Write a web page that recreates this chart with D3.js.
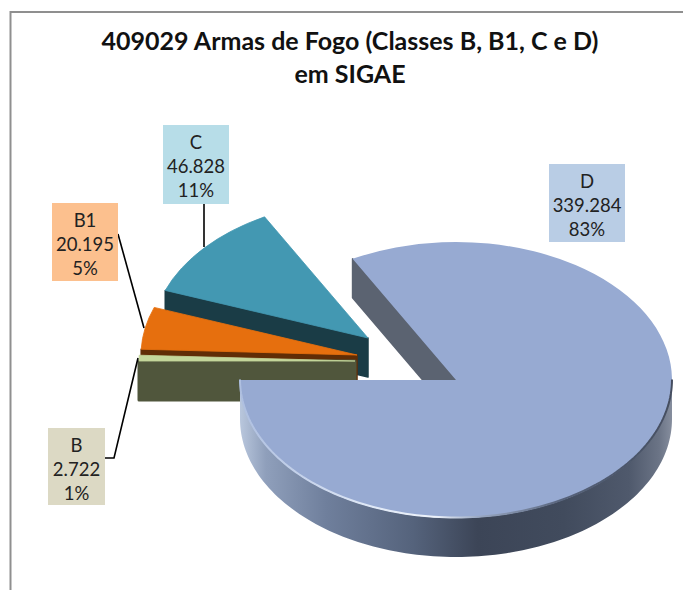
<!DOCTYPE html>
<html><head><meta charset="utf-8">
<script src="https://cdn.jsdelivr.net/npm/d3@7/dist/d3.min.js"></script>
<style>html,body{margin:0;padding:0;background:#fff}svg{display:block}</style>
</head><body>
<svg id="c" width="683" height="590"></svg>
<script>
const titleLines = ["409029 Armas de Fogo (Classes B, B1, C e D)", "em SIGAE"];
const categories = ["B", "B1", "C", "D"];
const values = [2722, 20195, 46828, 339284];

// Styling and layout, separate from the data
const topColors  = ["#c4d79b", "#e66f0e", "#4398b2", "#97aad2"];
const sideColors = ["#50563c", "#602d06", "#1a3c46", "#5b6371"];
const boxColors  = ["#dcd9c4", "#fcc08e", "#b7dde8", "#b9cde5"];
const wallStroke = [3, 1.5, 1.5, 1.5];
const R = 216, RY = 138, DEPTH = 39;
const centre = {x: 456, y: 380};
const apexes = [{x: 355, y: 361}, {x: 357, y: 355}, {x: 368, y: 338}, centre];
const boxes = [
  {x: 48, y: 428, w: 57, h: 77},
  {x: 52, y: 203, w: 66, h: 78},
  {x: 163, y: 125, w: 66, h: 79},
  {x: 549, y: 164, w: 76, h: 78}
];
const leaders = [
  [[105, 458], [114, 458], [138, 358]],
  [[118, 234], [144, 328]],
  [[204, 204], [204, 247]],
  []
];

const svg = d3.select("#c");
const defs = svg.append("defs");
const font = "Lato, 'Open Sans', sans-serif";

const fmtNum = d3.formatLocale({decimal: ",", thousands: ".", grouping: [3], currency: ["", ""]}).format(",d");
const fmtPct = d3.format(".0%");
const total = d3.sum(values);

const pie = d3.pie().sort(null).startAngle(-Math.PI / 2).endAngle(1.5 * Math.PI);
const arcs = pie(values);
const arc = d3.arc().innerRadius(0).outerRadius(R);

const px = (a, ang) => a.x + R * Math.sin(ang);
const py = (a, ang) => a.y - RY * Math.cos(ang);

// Frame
svg.append("path").attr("d", "M10.5,590V12H683")
  .attr("fill", "none").attr("stroke", "#8f8f8f").attr("stroke-width", 2);

// Title
svg.append("text").attr("text-anchor", "middle").attr("font-family", font)
  .attr("font-weight", 700).attr("font-size", 25).attr("fill", "#111")
  .selectAll("tspan").data(titleLines).join("tspan")
  .attr("x", 350).attr("y", (d, i) => 50 + i * 33).text(d => d);

// Gradients for the rim of the large slice
const rimGrad = defs.append("linearGradient").attr("id", "rim")
  .attr("gradientUnits", "userSpaceOnUse")
  .attr("x1", centre.x - R).attr("x2", centre.x + R).attr("y1", 0).attr("y2", 0);
[[0, "#b9c7dd"], [.06, "#8f9fbb"], [.2, "#6f7f9c"], [.4, "#55637c"], [.55, "#3c4557"],
 [.75, "#414b5d"], [.9, "#4f596c"], [.97, "#6b7486"], [1, "#868e9e"]]
  .forEach(([o, c]) => rimGrad.append("stop").attr("offset", o).attr("stop-color", c));

const bevelGrad = defs.append("linearGradient").attr("id", "bevel")
  .attr("gradientUnits", "userSpaceOnUse")
  .attr("x1", centre.x - R).attr("x2", centre.x + R).attr("y1", 0).attr("y2", 0);
[[0, "#aebfe0"], [.3, "#dfe8f6"], [.45, "#eef3fb"], [.55, "#9aa9c4"], [.75, "#56627a"], [1, "#454e60"]]
  .forEach(([o, c]) => bevelGrad.append("stop").attr("offset", o).attr("stop-color", c));
defs.append("filter").attr("id", "soft").append("feGaussianBlur").attr("stdDeviation", 0.6);

// Cut walls, rim and top face of each slice, back to front
const g = svg.append("g");
[2, 1, 0, 3].forEach(i => {
  const d = arcs[i], a = apexes[i], col = sideColors[i];
  // wall along the slice's start angle
  const s = d.startAngle;
  const wall = d3.line()([
    [a.x, a.y], [px(a, s), py(a, s)],
    [px(a, s), py(a, s) + DEPTH], [a.x, a.y + DEPTH]
  ]) + "Z";
  g.append("path").attr("d", wall).attr("fill", col).attr("stroke", col)
    .attr("stroke-width", wallStroke[i]).attr("stroke-linejoin", "round");

  if (i === 3) {
    // front rim of the large slice
    const angs = d3.range(Math.PI / 2, 1.5 * Math.PI + 1e-6, Math.PI / 120);
    const rim = d3.area().x(t => px(a, t)).y0(t => py(a, t)).y1(t => py(a, t) + DEPTH);
    g.append("path").attr("d", rim(angs)).attr("fill", "url(#rim)");
    g.append("path").attr("d", arc(d))
      .attr("transform", `translate(${a.x},${a.y}) scale(1,${RY / R})`)
      .attr("fill", topColors[i]);
    const edge = d3.line().x(t => px(a, t)).y(t => py(a, t) - 0.5);
    g.append("path").attr("d", edge(angs)).attr("fill", "none")
      .attr("stroke", "url(#bevel)").attr("stroke-width", 2).attr("filter", "url(#soft)");
  } else {
    g.append("path").attr("d", arc(d))
      .attr("transform", `translate(${a.x},${a.y}) scale(1,${RY / R})`)
      .attr("fill", topColors[i]).attr("stroke", topColors[i])
      .attr("stroke-width", 1).attr("stroke-linejoin", "round");
  }
});

// Leader lines
const lead = d3.line();
svg.append("g").selectAll("path").data(leaders.filter(l => l.length)).join("path")
  .attr("d", d => lead(d)).attr("fill", "none").attr("stroke", "#000").attr("stroke-width", 1.6);

// Data labels
const lab = svg.append("g").selectAll("g").data(categories).join("g");
lab.append("rect")
  .attr("x", (d, i) => boxes[i].x).attr("y", (d, i) => boxes[i].y)
  .attr("width", (d, i) => boxes[i].w).attr("height", (d, i) => boxes[i].h)
  .attr("fill", (d, i) => boxColors[i]);
lab.each(function (d, i) {
  const b = boxes[i];
  const lines = [d, fmtNum(values[i]), fmtPct(values[i] / total)];
  d3.select(this).append("text").attr("text-anchor", "middle")
    .attr("font-family", font).attr("font-size", 18.5).attr("fill", "#222")
    .selectAll("tspan").data(lines).join("tspan")
    .attr("x", b.x + b.w / 2)
    .attr("y", (t, k) => b.y + 24 + k * 24)
    .text(t => t);
});
</script>
</body></html>
